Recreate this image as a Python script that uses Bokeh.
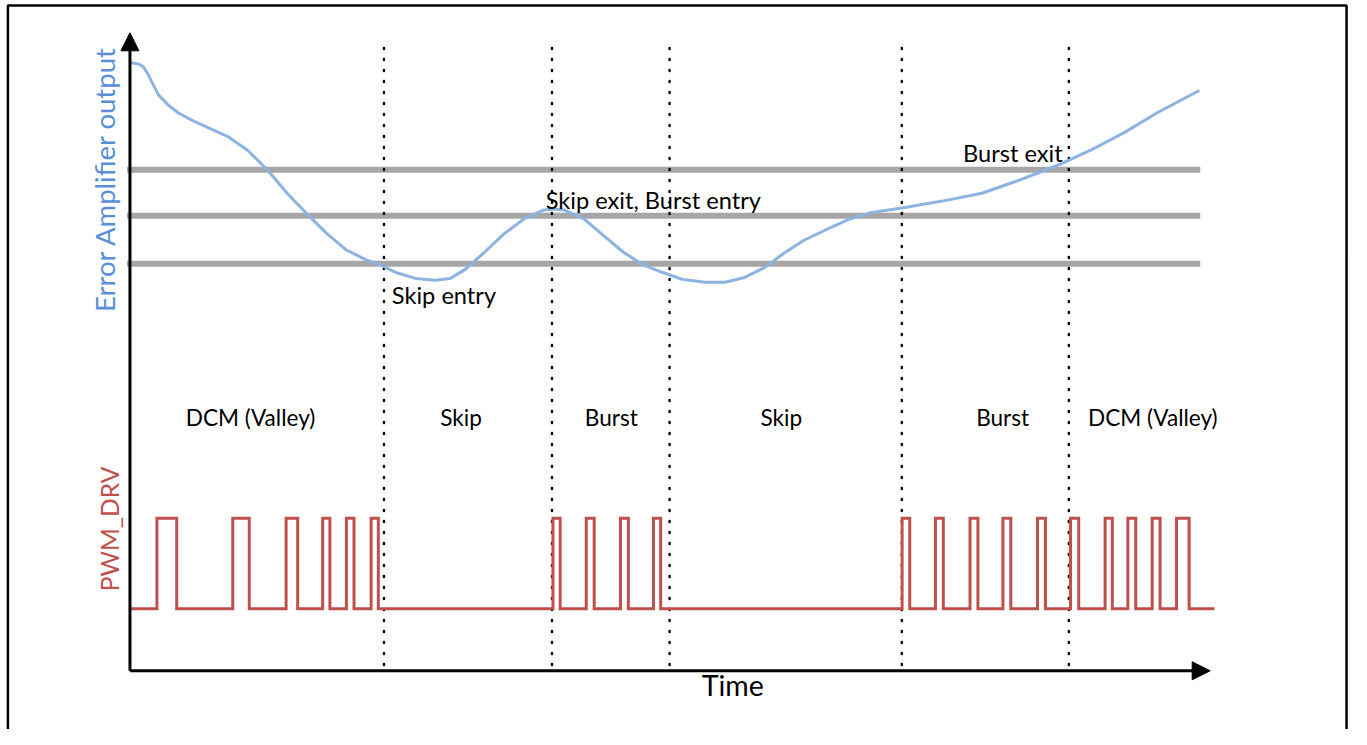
import math
from bokeh.plotting import figure
from bokeh.models import Range1d, Arrow, NormalHead
from bokeh.core.properties import value
from bokeh.embed import file_html
from bokeh.resources import INLINE

# ---------------- data (time units, level units) ----------------
ea_time = [0, 9, 14, 19, 24, 29, 39, 49, 64, 79, 99, 119, 139, 159, 179, 199, 219,
           239, 253, 269, 289, 309, 324, 339, 359, 379, 399, 419, 429, 439, 459,
           479, 499, 519, 539, 559, 582, 602, 622, 642, 662, 682, 709, 729, 749,
           781, 822, 862, 896, 922, 942, 972, 1006, 1039, 1082]
ea_level = [621.7, 620, 616.7, 608.3, 598, 588.3, 578, 570, 562, 555, 546, 532, 512,
            488, 467, 447, 430, 420, 415, 407, 401, 399, 401, 410, 428, 447, 462,
            471, 472, 471, 462, 445, 428, 415, 407, 400, 397, 397, 402, 412, 427,
            440, 453, 462, 468, 473, 480, 488, 500, 510, 518, 532, 550, 570, 593]

thresholds = [512, 465, 416]          # Burst exit, Skip exit/Burst entry, Skip entry
threshold_span = [-3, 1083]

boundaries = [257, 427, 546, 781, 950]
boundary_span = [6, 640]

pwm_low, pwm_high = 63.3, 156
pwm_start, pwm_end = 0, 1097.3
pulse_rise = [27.3, 104, 158, 195, 219, 244,
              428, 461.7, 496.3, 529.7,
              781.3, 815, 850, 883.3, 918.3, 951.7, 986.7, 1009.7, 1034.3, 1059]
pulse_fall = [47.3, 120.7, 169.7, 202.3, 226.7, 251.3,
              435.3, 469.7, 504.3, 537,
              789, 823, 858, 891.3, 926.3, 960, 994, 1017.7, 1042.3, 1071.7]

mode_names = ["DCM (Valley)", "Skip", "Burst", "Skip", "Burst", "DCM (Valley)"]
mode_centers = [122, 335, 487, 659, 883, 1035]
mode_level = 258.5

event_names = ["Skip entry", "Skip exit, Burst entry", "Burst exit"]
event_time = [265, 420.7, 843]
event_level = [384.5, 481.5, 529.5]

frame_x = [-123.5, -123.5, 1231, 1231]
frame_y = [-70, 680, 680, -70]

# ---------------- figure ----------------
W, H = 1351, 729
p = figure(width=W, height=H, x_range=Range1d(-131, 1236), y_range=Range1d(-60, 685),
           output_backend="svg", toolbar_location=None, min_border=0,
           min_border_left=0, min_border_right=0, min_border_top=0, min_border_bottom=0)
p.xaxis.visible = False
p.yaxis.visible = False
p.xgrid.visible = False
p.ygrid.visible = False
p.outline_line_color = None
p.background_fill_color = "white"
p.border_fill_color = "white"

FONT = value("Lato")

# picture frame
p.line(frame_x, frame_y, line_color="black", line_width=2.5)

# threshold lines
for lv in thresholds:
    p.line(threshold_span, [lv, lv], line_color="#a6a6a6", line_width=6)

# dotted boundaries
for b in boundaries:
    p.line([b, b], boundary_span, line_color="black", line_width=2.5,
           line_dash="1 10", line_cap="round")

# error amp curve
p.line(ea_time, ea_level, line_color="#8db3e2", line_width=3, line_join="round")

# PWM waveform built from rise/fall times
px = [pwm_start]
py = [pwm_low]
for r, f in zip(pulse_rise, pulse_fall):
    px += [r, r, f, f]
    py += [pwm_low, pwm_high, pwm_high, pwm_low]
px.append(pwm_end)
py.append(pwm_low)
p.line(px, py, line_color="#c0504d", line_width=3, line_join="miter")

# axes with arrows
p.add_layout(Arrow(end=NormalHead(size=18, fill_color="black", line_color="black"),
                   x_start=0, y_start=0, x_end=0, y_end=652,
                   line_width=3, line_color="black"))
p.add_layout(Arrow(end=NormalHead(size=18, fill_color="black", line_color="black"),
                   x_start=0, y_start=0, x_end=1093, y_end=0,
                   line_width=3, line_color="black"))

# labels
p.text(x=[-26], y=[502.5], text=["Error Amplifier output"], angle=math.pi / 2,
       text_align="center", text_baseline="alphabetic", text_font=FONT,
       text_font_size="27.5px", text_color="#5a8fd8")
p.text(x=[-21], y=[145], text=["PWM_DRV"], angle=math.pi / 2,
       text_align="center", text_baseline="alphabetic", text_font=FONT,
       text_font_size="24.6px", text_color="#c0504d")
p.text(x=[610], y=[-14.5], text=["Time"], text_align="center",
       text_baseline="alphabetic", text_font=FONT, text_font_size="28.5px",
       text_color="black")

p.text(x=mode_centers, y=[mode_level] * len(mode_centers), text=mode_names,
       text_align="center", text_baseline="alphabetic", text_font=FONT,
       text_font_size="22.6px", text_color="black")
p.text(x=event_time, y=event_level, text=event_names, text_align="left",
       text_baseline="alphabetic", text_font=FONT, text_font_size="23.6px",
       text_color="black")

open("out.html", "w").write(file_html(p, INLINE))
